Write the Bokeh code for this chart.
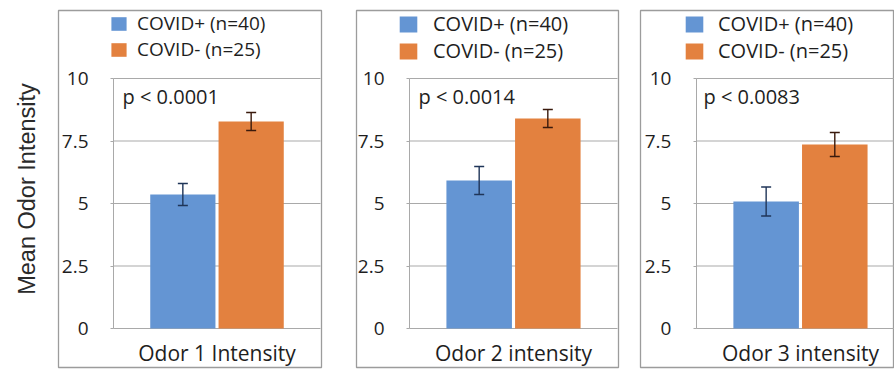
import math
from bokeh.plotting import figure
from bokeh.layouts import row
from bokeh.models import (ColumnDataSource, Range1d, FixedTicker, Whisker, TeeHead,
                          Legend, LegendItem, Label, LinearAxis)
from bokeh.transform import dodge
from bokeh.embed import file_html
from bokeh.resources import INLINE

# ---------------- data ----------------
categories = ["Odor 1 Intensity", "Odor 2 intensity", "Odor 3 intensity"]
series_names = ["COVID+ (n=40)", "COVID- (n=25)"]
covid_pos_mean = [5.36, 5.92, 5.08]
covid_pos_err = [0.44, 0.56, 0.58]
covid_neg_mean = [8.28, 8.40, 7.36]
covid_neg_err = [0.36, 0.36, 0.48]
p_labels = ["p < 0.0001", "p < 0.0014", "p < 0.0083"]
y_ticks = [0, 2.5, 5, 7.5, 10]
y_tick_labels = ["0", "2.5", "5", "7.5", "10"]
y_axis_title = "Mean Odor Intensity"

# ---------------- style / layout ----------------
BLUE = "#6495D3"
ORANGE = "#E3813F"
ERR_BLUE = "#1f3558"
ERR_ORANGE = "#3a1a0c"
GRID = "#a9a9a9"
BORDER = "#9c9c9c"
TEXT = "#1e1e1e"
FONT = "Open Sans"
H = 369

fig_widths = [335, 290, 269]
left_pads = [58, 21, 15]
right_pads = [14, 7, 0]
x_starts = [-0.7657, -0.7548, -0.769]
x_ends = [0.5048, 0.5048, 0.452]
y_start, y_end = -1.56, 12.72
AXIS_X = -0.5
GRID_X_END = 0.5
legend_loc = [(51, 305), (41, 303), (43, 303)]
legend_glyph = [(19, 17), (22, 20), (22, 20)]
legend_font = ["19px", "20px", "20px"]
legend_spacing = [-6, -2, -2]
legend_standoff = [9, 14, 13]
p_x = [64, 62, 63]
p_y = 271
DODGE = 0.165
BAR_W = 0.315


def make_panel(i):
    p = figure(width=fig_widths[i], height=H,
               x_range=Range1d(x_starts[i], x_ends[i]), y_range=Range1d(y_start, y_end),
               output_backend="svg", toolbar_location=None,
               min_border_left=left_pads[i], min_border_right=right_pads[i],
               min_border_top=10, min_border_bottom=2)
    p.outline_line_color = BORDER
    p.outline_line_width = 1.3
    p.background_fill_color = "white"
    p.border_fill_color = "white"
    p.xgrid.visible = False
    p.ygrid.visible = False

    # horizontal gridlines of the inner plot area (from the tick values)
    p.segment(x0=AXIS_X, x1=GRID_X_END, y0=y_ticks, y1=y_ticks,
              line_color=GRID, line_width=1)

    src = ColumnDataSource(dict(
        x=[0],
        pos=[covid_pos_mean[i]],
        pos_hi=[covid_pos_mean[i] + covid_pos_err[i]],
        pos_lo=[covid_pos_mean[i] - covid_pos_err[i]],
        neg=[covid_neg_mean[i]],
        neg_hi=[covid_neg_mean[i] + covid_neg_err[i]],
        neg_lo=[covid_neg_mean[i] - covid_neg_err[i]],
    ))

    r1 = p.vbar(x=dodge("x", -DODGE, range=p.x_range), top="pos", width=BAR_W,
                source=src, fill_color=BLUE, line_color=None)
    r2 = p.vbar(x=dodge("x", DODGE, range=p.x_range), top="neg", width=BAR_W,
                source=src, fill_color=ORANGE, line_color=None)

    for off, hi, lo, col in [(-DODGE, "pos_hi", "pos_lo", ERR_BLUE),
                             (DODGE, "neg_hi", "neg_lo", ERR_ORANGE)]:
        w = Whisker(source=src, base=dodge("x", off, range=p.x_range), upper=hi, lower=lo,
                    dimension="height", line_color=col, line_width=1.4, level="overlay",
                    upper_head=TeeHead(size=10, line_color=col, line_width=1.4),
                    lower_head=TeeHead(size=10, line_color=col, line_width=1.4))
        p.add_layout(w)

    # y axis (inside the panel box)
    ya = p.yaxis[0]
    ya.fixed_location = AXIS_X
    ya.bounds = (y_ticks[0], y_ticks[-1])
    ya.ticker = FixedTicker(ticks=y_ticks)
    ya.major_label_overrides = {t: l for t, l in zip(y_ticks, y_tick_labels)}
    ya.axis_line_color = GRID
    ya.major_tick_line_color = GRID
    ya.major_tick_out = 3
    ya.major_tick_in = 0
    ya.minor_tick_line_color = None
    ya.major_label_standoff = 22
    ya.major_label_text_font = FONT
    ya.major_label_text_font_size = "19px"
    ya.major_label_text_color = TEXT

    # x axis (category label under the bars)
    xa = p.xaxis[0]
    xa.fixed_location = 0
    xa.ticker = FixedTicker(ticks=[0])
    xa.major_label_overrides = {0: categories[i]}
    xa.axis_line_color = None
    xa.major_tick_line_color = None
    xa.minor_tick_line_color = None
    xa.major_label_standoff = 4
    xa.major_label_text_font = FONT
    xa.major_label_text_font_size = "21px"
    xa.major_label_text_color = TEXT

    # legend
    gw, gh = legend_glyph[i]
    leg = Legend(items=[LegendItem(label=series_names[0], renderers=[r1]),
                        LegendItem(label=series_names[1], renderers=[r2])],
                 location=legend_loc[i], orientation="vertical",
                 glyph_width=gw, glyph_height=gh, label_height=gh,
                 spacing=legend_spacing[i], padding=0, margin=0,
                 border_line_color=None, background_fill_alpha=0,
                 label_text_font=FONT, label_text_font_size=legend_font[i],
                 label_text_color=TEXT, label_standoff=legend_standoff[i])
    p.add_layout(leg)

    # p-value text
    p.add_layout(Label(x=p_x[i], y=p_y, x_units="screen", y_units="screen",
                       text=p_labels[i], text_baseline="middle", text_font=FONT,
                       text_font_size="20px", text_color=TEXT))

    if i == 0:
        # y-axis title, outside the panel box (own side-panel axis, no ticks)
        ta = LinearAxis(ticker=FixedTicker(ticks=[]),
                        axis_line_color=None, major_tick_line_color=None,
                        minor_tick_line_color=None, major_tick_out=0, major_tick_in=0,
                        major_label_standoff=0,
                        axis_label=y_axis_title, axis_label_standoff=19,
                        axis_label_text_font="Liberation Sans",
                        axis_label_text_font_size="23.5px",
                        axis_label_text_font_style="normal",
                        axis_label_text_color="#2a2a2a")
        p.add_layout(ta, "left")
    return p


panels = [make_panel(i) for i in range(3)]
layout = row(*panels, spacing=0)

open("out.html", "w").write(file_html(layout, INLINE))
